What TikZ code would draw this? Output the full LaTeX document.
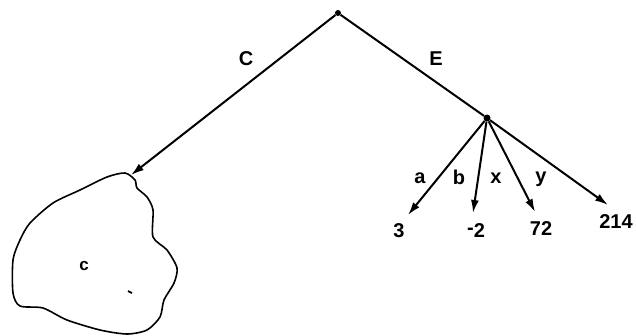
\documentclass[tikz,border=0pt]{standalone}
\usepackage{fontspec}
\setmainfont{Liberation Sans}
\usetikzlibrary{arrows.meta}
\begin{document}
\begin{tikzpicture}[x=1pt,y=-1pt,
  dotnode/.style={circle,fill=black,inner sep=0pt,minimum size=6pt},
  lbl/.style={font=\bfseries\fontsize{20}{20}\selectfont,inner sep=1pt},
  arr/.style={line width=2pt,-{Latex[length=13pt,width=8pt]}},
  seg/.style={line width=2pt}]
\useasboundingbox (0,0) rectangle (636,335);
\node[dotnode] (root) at (338,13) {};
\node[dotnode,minimum size=7pt] (e) at (487,118) {};
\coordinate (blobtop) at (131,175);
\coordinate (t3) at (408,215);
\coordinate (tm2) at (473,213);
\coordinate (t72) at (535,212);
\coordinate (t214) at (608,205);
\draw[arr] (root) -- (blobtop);
\draw[seg] (root) -- (e);
\draw[arr] (e) -- (t3);
\draw[arr] (e) -- (tm2);
\draw[arr] (e) -- (t72);
\draw[arr] (e) -- (t214);
\node[lbl] (lc) at (246,59) {C};
\node[lbl] (le) at (436,59) {E};
\node[lbl] (la) at (420,178) {a};
\node[lbl] (lb) at (459,177) {b};
\node[lbl] (lx) at (496,178) {x};
\node[lbl] (ly) at (541,179) {y};
\node[lbl] (n3) at (399,231) {3};
\node[lbl] (nm2) at (476,231) {\raisebox{0.3ex}{-}2};
\node[lbl] (n72) at (541,229) {72};
\node[lbl] (n214) at (616,222) {214};
\draw[line width=1.6pt,line join=round]
  plot[smooth cycle,tension=0.45] coordinates {
  (125,173) (135,180) (137,188) (147,197) (153,210) (153,237) (167,250)
  (177,268) (174,283) (164,300) (160,317) (147,330) (127,334) (100,330)
  (67,320) (43,308) (20,306) (13,293) (13,260) (20,240) (30,223)
  (53,203) (80,190) (107,177)};
\node[lbl,font=\bfseries\fontsize{17}{17}\selectfont] (cc) at (84,266) {c};
\draw[line width=1.8pt] (128,291) -- (132,293);
\end{tikzpicture}
\end{document}
